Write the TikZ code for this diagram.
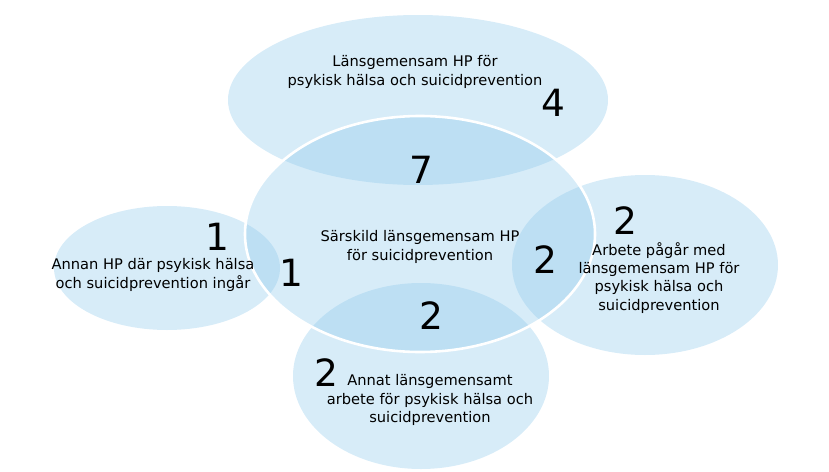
\documentclass[tikz,border=0pt]{standalone}
\usepackage{fontspec}
\setmainfont{DejaVu Sans}
\usetikzlibrary{positioning}

\begin{document}
\begin{tikzpicture}[x=0.03cm,y=-0.03cm]
 \tikzstyle{blob}=[fill={rgb,255:red,140;green,200;blue,235},fill opacity=0.35]
 \tikzstyle{lbl}=[align=center,font=\fontsize{12.5}{15.5}\selectfont]
 \tikzstyle{num}=[font=\fontsize{32}{36}\selectfont]

\useasboundingbox (0,0) rectangle (829,472);

% circles
\fill[blob] (418,100) ellipse [x radius=190,y radius=85];
\fill[blob] (167,268) ellipse [x radius=113,y radius=62];
\fill[blob] (645,265) ellipse [x radius=133,y radius=90];
\fill[blob] (421,376) ellipse [x radius=128,y radius=93];
\fill[blob] (420,234) ellipse [x radius=175,y radius=118];
\draw[white,line width=2.2pt] (420,234) ellipse [x radius=175,y radius=118];

% texts
\node[lbl] (top)    at (415,72)  {Länsgemensam HP för\\psykisk hälsa och suicidprevention};
\node[lbl] (mid)    at (420,247) {Särskild länsgemensam HP\\för suicidprevention};
\node[lbl] (left)   at (153,275) {Annan HP där psykisk hälsa\\och suicidprevention ingår};
\node[lbl] (right)  at (659,278) {Arbete pågår med\\länsgemensam HP för\\psykisk hälsa och\\suicidprevention};
\node[lbl] (bottom) at (430,400) {Annat länsgemensamt\\arbete för psykisk hälsa och\\suicidprevention};

% numbers
\node[num] (n4)  at (553,103) {4};
\node[num] (n7)  at (421,170) {7};
\node[num] (n1a) at (217,237) {1};
\node[num] (n1b) at (291,273) {1};
\node[num] (n2a) at (545,260) {2};
\node[num] (n2b) at (625,221) {2};
\node[num] (n2c) at (431,316) {2};
\node[num] (n2d) at (326,373) {2};
\end{tikzpicture}
\end{document}
